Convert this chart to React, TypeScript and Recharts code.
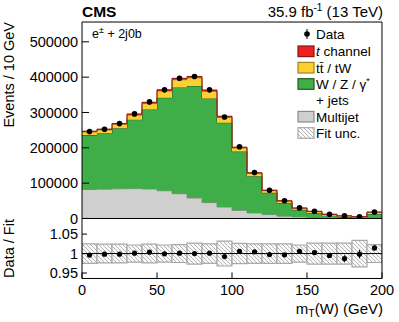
import React from "react";
import {
  ComposedChart,
  Area,
  Scatter,
  Bar,
  XAxis,
  YAxis,
  ReferenceLine,
  ErrorBar,
} from "recharts";

const FONT = "'Liberation Sans', Arial, Helvetica, sans-serif";

// 10 GeV bins in m_T(W), last bin includes overflow
const binEdges = [0, 10, 20, 30, 40, 50, 60, 70, 80, 90, 100, 110, 120, 130, 140, 150, 160, 170, 180, 190, 200];

const dataCounts = [246000, 252500, 268500, 296000, 330000, 364000, 397000, 402000, 364000, 287000, 203000, 130000, 80000, 50000, 30000, 20500, 12000, 7300, 5000, 18500];
const multijet = [82000, 83000, 84000, 84500, 83500, 78500, 70000, 58000, 45000, 32500, 23000, 15700, 11000, 6500, 4500, 3000, 2000, 1500, 1000, 1500];
const wzJets = [154000, 158200, 171400, 195200, 224800, 263000, 300600, 317000, 294800, 238500, 166300, 103700, 61700, 37500, 19900, 12700, 6000, 2700, 1700, 11400];
const ttbar = [9000, 9500, 11000, 13000, 17000, 19000, 22000, 23000, 20000, 15000, 10000, 8000, 6000, 5000, 4500, 4000, 3500, 2800, 2000, 4500];
const tChannel = [2000, 2200, 2500, 3000, 3500, 3800, 4000, 4000, 3800, 3200, 2500, 2000, 1500, 1200, 900, 700, 600, 400, 300, 800];

const ratio = [0.996, 0.9985, 0.9985, 1.001, 1.0036, 0.9992, 1.001, 1.0, 1.001, 0.9923, 1.006, 1.0044, 0.9975, 0.9967, 1.006, 1.0026, 0.995, 0.987, 0.9985, 1.0146];
const ratioErr = [0.001, 0.001, 0.001, 0.001, 0.001, 0.001, 0.001, 0.001, 0.001, 0.002, 0.002, 0.002, 0.003, 0.003, 0.004, 0.005, 0.006, 0.0085, 0.011, 0.007];
const fitUnc = [0.025, 0.024, 0.024, 0.022, 0.024, 0.022, 0.023, 0.027, 0.025, 0.032, 0.026, 0.025, 0.025, 0.025, 0.022, 0.027, 0.027, 0.027, 0.034, 0.023];

const xTicks = [0, 50, 100, 150, 200];
const xMinorTicks = [0, 5, 10, 15, 20, 25, 30, 35, 40, 45, 50, 55, 60, 65, 70, 75, 80, 85, 90, 95, 100, 105, 110, 115, 120, 125, 130, 135, 140, 145, 150, 155, 160, 165, 170, 175, 180, 185, 190, 195, 200];
const yTicks = [0, 100000, 200000, 300000, 400000, 500000];
const yMinorTicks = [0, 20000, 40000, 60000, 80000, 100000, 120000, 140000, 160000, 180000, 200000, 220000, 240000, 260000, 280000, 300000, 320000, 340000, 360000, 380000, 400000, 420000, 440000, 460000, 480000, 500000, 520000, 540000];
const ratioTicks = [0.95, 1, 1.05];

// histogram edges for step areas (last edge repeats last bin)
const stackRows = binEdges.map((x, i) => {
  const k = Math.min(i, dataCounts.length - 1);
  return { x, mj: multijet[k], wz: wzJets[k], tt: ttbar[k], tch: tChannel[k] };
});
const binCenters = binEdges.slice(0, -1).map((e, i) => (e + binEdges[i + 1]) / 2);
const pointRows = binCenters.map((x, i) => ({ x, y: dataCounts[i] }));
const ratioRows = binCenters.map((x, i) => ({
  x,
  y: ratio[i],
  err: ratioErr[i],
  box: [1 - fitUnc[i], 1 + fitUnc[i]],
}));

const tickStyle = { fill: "#000", fontSize: 14.5, fontFamily: FONT };
const line = { stroke: "#000", strokeWidth: 1 };
const THIN = 0.01; // axes take no layout room, the margins set the frame

type FrameCfg = {
  yDomain: [number, number];
  yMajor: number[];
  yMinor: number[] | null;
  yMajorLen: number;
  yMinorLen: number;
  xMajorLen: number;
  xMinorLen: number;
  xLabels: boolean;
};

// ROOT-style frame: inward ticks on all four sides
function frameAxes(c: FrameCfg) {
  const xc = { type: "number" as const, dataKey: "x", domain: [0, 200], allowDataOverflow: true, interval: 0 as const };
  const yc = { type: "number" as const, domain: c.yDomain, allowDataOverflow: true, interval: 0 as const };
  const axes = [
    <XAxis key="xb" {...xc} ticks={xTicks} height={THIN} tickSize={-c.xMajorLen} tickMargin={c.xLabels ? 6 + c.xMajorLen : 0} tick={c.xLabels ? tickStyle : false} axisLine={line} tickLine={line} />,
    <XAxis key="xbm" {...xc} xAxisId="xbm" ticks={xMinorTicks} height={THIN} tickSize={-c.xMinorLen} tick={false} axisLine={false} tickLine={line} />,
    <XAxis key="xt" {...xc} xAxisId="xt" orientation="top" ticks={xTicks} height={THIN} tickSize={-c.xMajorLen} tick={false} axisLine={line} tickLine={line} />,
    <XAxis key="xtm" {...xc} xAxisId="xtm" orientation="top" ticks={xMinorTicks} height={THIN} tickSize={-c.xMinorLen} tick={false} axisLine={false} tickLine={line} />,
    <YAxis key="yl" {...yc} ticks={c.yMajor} width={THIN} tickSize={-c.yMajorLen} tickMargin={4 + c.yMajorLen} tick={tickStyle} axisLine={line} tickLine={line} />,
    <YAxis key="yr" {...yc} yAxisId="yr" orientation="right" ticks={c.yMajor} width={THIN} tickSize={-c.yMajorLen} tick={false} axisLine={line} tickLine={line} />,
  ];
  if (c.yMinor) {
    axes.push(
      <YAxis key="ylm" {...yc} yAxisId="ylm" ticks={c.yMinor} width={THIN} tickSize={-c.yMinorLen} tick={false} axisLine={false} tickLine={line} />,
      <YAxis key="yrm" {...yc} yAxisId="yrm" orientation="right" ticks={c.yMinor} width={THIN} tickSize={-c.yMinorLen} tick={false} axisLine={false} tickLine={line} />
    );
  }
  return axes;
}

const DataDot = (p: any) => <circle cx={p.cx} cy={p.cy} r={2.8} fill="#000" />;
const RatioDot = (p: any) => <circle cx={p.cx} cy={p.cy} r={2.6} fill="#000" />;

const legendRows = [
  { label: "t channel", fill: "#ee2024", stroke: "#8a1515", y: 51.3 },
  { label: "tt/tW", fill: "#fccf33", stroke: "#a8801c", y: 67.7 },
  { label: "W/Z", fill: "#3fae49", stroke: "#1d5d22", y: 84 },
  { label: "Multijet", fill: "#cfcfcf", stroke: "#8a8a8a", y: 116.7 },
  { label: "Fit", fill: "url(#hatch)", stroke: "#a8a8a8", y: 133 },
];

export default function App() {
  return (
    <div style={{ position: "absolute", left: 0, top: 0, width: 399, height: 322, background: "#fff" }}>
      <svg width={0} height={0} style={{ position: "absolute" }}>
        <defs>
          <pattern id="hatch" width={4} height={4} patternUnits="userSpaceOnUse">
            <rect width={4} height={4} fill="#fafafa" />
            <path d="M-1,-1 L5,5 M-1,3 L1,5 M3,-1 L5,1" stroke="#b4b4b4" strokeWidth={1} />
          </pattern>
        </defs>
      </svg>

      <div style={{ position: "absolute", left: 0, top: 218 }}>
        <ComposedChart width={399} height={104} data={ratioRows} margin={{ top: 0.5, right: 17, bottom: 43.5, left: 82 }} barCategoryGap={0} barGap={0}>
          <Bar dataKey="box" fill="url(#hatch)" stroke="#a8a8a8" strokeWidth={1.2} isAnimationActive={false} />
          <ReferenceLine y={1} stroke="#000" strokeWidth={1} />
          <Scatter data={ratioRows} dataKey="y" shape={RatioDot} isAnimationActive={false}>
            <ErrorBar dataKey="err" direction="y" width={0} stroke="#000" strokeWidth={1} />
          </Scatter>
          {frameAxes({ yDomain: [0.936, 1.09], yMajor: ratioTicks, yMinor: null, yMajorLen: 5, yMinorLen: 3, xMajorLen: 6, xMinorLen: 3, xLabels: true })}
        </ComposedChart>
      </div>

      <div style={{ position: "absolute", left: 0, top: 0 }}>
        <ComposedChart width={399} height={228} data={stackRows} margin={{ top: 22, right: 17, bottom: 9.5, left: 82 }}>
          <Area type="stepAfter" dataKey="mj" stackId="mc" fill="#cfcfcf" fillOpacity={1} stroke="#8a8a8a" strokeWidth={1} isAnimationActive={false} />
          <Area type="stepAfter" dataKey="wz" stackId="mc" fill="#3fae49" fillOpacity={1} stroke="#1d5d22" strokeWidth={1} isAnimationActive={false} />
          <Area type="stepAfter" dataKey="tt" stackId="mc" fill="#fccf33" fillOpacity={1} stroke="#a8801c" strokeWidth={1} isAnimationActive={false} />
          <Area type="stepAfter" dataKey="tch" stackId="mc" fill="#ee2024" fillOpacity={1} stroke="#8a1515" strokeWidth={1} isAnimationActive={false} />
          <Scatter data={pointRows} dataKey="y" shape={DataDot} isAnimationActive={false} />
          {frameAxes({ yDomain: [0, 556000], yMajor: yTicks, yMinor: yMinorTicks, yMajorLen: 7, yMinorLen: 3.5, xMajorLen: 7, xMinorLen: 3.5, xLabels: false })}
        </ComposedChart>
      </div>

      <svg width={399} height={322} style={{ position: "absolute", left: 0, top: 0 }} fontFamily={FONT}>
        <text x={82} y={16.7} fontSize={15.5} fontWeight="bold">CMS</text>
        <text x={383} y={16.7} fontSize={15} textAnchor="end">
          35.9 fb<tspan dy={-6} fontSize={10}>-1</tspan>
          <tspan dy={6}> (13 TeV)</tspan>
        </text>
        <text x={92} y={38} fontSize={12.5}>
          e<tspan dy={-5} fontSize={9}>±</tspan>
          <tspan dy={5}> + 2j0b</tspan>
        </text>

        <line x1={307} x2={307} y1={29} y2={39} stroke="#000" strokeWidth={1} />
        <circle cx={307} cy={34} r={2.8} fill="#000" />
        <text x={316} y={38.9} fontSize={13.5}>Data</text>
        {legendRows.map((r) => (
          <rect key={r.label} x={298} y={r.y - 5.3} width={16} height={10.6} fill={r.fill} stroke={r.stroke} strokeWidth={1.2} />
        ))}
        <text x={316} y={56.2} fontSize={13.5}><tspan fontStyle="italic">t</tspan> channel</text>
        <text x={316} y={72.6} fontSize={13.5}>tt̄ / tW</text>
        <text x={316} y={88.9} fontSize={13.5}>
          W / Z / γ<tspan dy={-5} fontSize={9}>*</tspan>
        </text>
        <text x={316} y={104.9} fontSize={13.5}>+ jets</text>
        <text x={316} y={121.6} fontSize={13.5}>Multijet</text>
        <text x={316} y={137.9} fontSize={13.5}>Fit unc.</text>

        <text transform="translate(14,22) rotate(-90)" textAnchor="end" fontSize={14.5}>Events / 10 GeV</text>
        <text transform="translate(14,248.5) rotate(-90)" textAnchor="middle" fontSize={14.5}>Data / Fit</text>
        <text x={383} y={313.5} textAnchor="end" fontSize={15}>
          m<tspan dy={3} fontSize={10.5}>T</tspan>
          <tspan dy={-3}>(W) (GeV)</tspan>
        </text>
      </svg>
    </div>
  );
}
